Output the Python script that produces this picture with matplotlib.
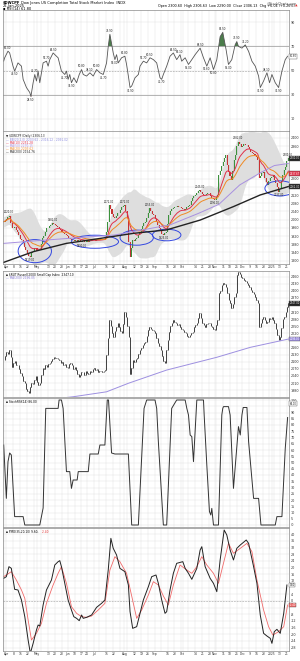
import numpy as np
import pandas as pd
import matplotlib
matplotlib.use("Agg")
import matplotlib.pyplot as plt
from matplotlib.patches import Ellipse

# trading days on the chart
holidays = ["2024-03-29", "2024-05-27", "2024-06-19", "2024-07-04", "2024-09-02",
            "2024-11-28", "2024-12-25", "2025-01-01", "2025-01-09", "2025-01-20"]
dates = pd.bdate_range("2024-03-27", "2025-01-22")
dates = dates[~dates.isin(pd.to_datetime(holidays))]

dw_close = [
    1990, 1995, 2005, 2012, 2020, 1985, 1960, 1957, 1965, 1950,
    1941, 1925, 1905, 1900, 1885, 1868, 1850, 1835, 1822, 1819,
    1835, 1843, 1860, 1859, 1845, 1851, 1851, 1880, 1908, 1920,
    1940, 1957, 1960, 1970, 1975, 1982, 1978, 1975, 1968, 1966,
    1955, 1948, 1941, 1935, 1930, 1925, 1918, 1912, 1905, 1900,
    1900, 1895, 1902, 1898, 1900, 1895, 1890, 1898, 1892, 1892,
    1896, 1890, 1898, 1900, 1900, 1905, 1898, 1902, 1900, 1900,
    1905, 1903, 1906, 1908, 1940, 1990, 2072, 2050, 2030, 2015,
    2006, 2020, 2035, 2031, 2045, 2060, 2068, 2072, 2040, 2006,
    1892, 1815, 1860, 1900, 1895, 1905, 1908, 1925, 1941, 1955,
    1970, 1982, 1990, 2010, 2035, 2055, 2040, 2030, 2023, 2005,
    1990, 1974, 1960, 1945, 1930, 1925, 1935, 1941, 1980, 2023,
    2040, 2050, 2058, 2064, 2060, 2066, 2060, 2064, 2055, 2050,
    2047, 2052, 2060, 2068, 2072, 2090, 2105, 2115, 2122, 2129,
    2138, 2145, 2135, 2128, 2121, 2121, 2125, 2130, 2129, 2115,
    2105, 2100, 2096, 2110, 2121, 2219, 2240, 2265, 2284, 2300,
    2317, 2270, 2235, 2215, 2194, 2240, 2290, 2317, 2360, 2382,
    2370, 2358, 2362, 2370, 2366, 2366, 2355, 2345, 2333, 2325,
    2320, 2315, 2309, 2290, 2202, 2215, 2228, 2235, 2205, 2185,
    2170, 2190, 2205, 2210, 2219, 2195, 2178, 2160, 2137, 2150,
    2190, 2219, 2245, 2260, 2285, 2300,
]

rut_close = [
    2108, 2125, 2140, 2135, 2150, 2120, 2080, 2095, 2105, 2085,
    2087, 2070, 2052, 2040, 2020, 2009, 1985, 1975, 1967, 1995,
    2010, 2005, 2023, 2040, 2015, 2000, 2009, 2045, 2072, 2070,
    2085, 2080, 2090, 2094, 2105, 2110, 2122, 2115, 2118, 2110,
    2108, 2095, 2100, 2085, 2090, 2080, 2075, 2090, 2094, 2085,
    2070, 2080, 2065, 2050, 2037, 2045, 2055, 2058, 2045, 2060,
    2052, 2048, 2062, 2055, 2068, 2072, 2065, 2070, 2058, 2062,
    2060, 2058, 2062, 2065, 2129, 2200, 2277, 2250, 2220, 2206,
    2230, 2245, 2263, 2245, 2230, 2221, 2260, 2312, 2290, 2250,
    2206, 2050, 2075, 2108, 2100, 2110, 2115, 2135, 2150, 2160,
    2170, 2180, 2185, 2210, 2235, 2249, 2240, 2235, 2230, 2221,
    2200, 2178, 2165, 2150, 2125, 2105, 2094, 2150, 2192, 2225,
    2250, 2265, 2277, 2270, 2262, 2255, 2258, 2249, 2240, 2235,
    2228, 2220, 2210, 2206, 2215, 2222, 2228, 2245, 2255, 2263,
    2285, 2305, 2285, 2265, 2255, 2249, 2258, 2262, 2263, 2250,
    2245, 2240, 2235, 2255, 2277, 2390, 2400, 2425, 2432, 2428,
    2418, 2390, 2360, 2347, 2326, 2345, 2375, 2390, 2465, 2481,
    2470, 2460, 2455, 2445, 2440, 2432, 2425, 2418, 2404, 2395,
    2385, 2375, 2362, 2350, 2249, 2265, 2280, 2291, 2275, 2263,
    2270, 2285, 2280, 2291, 2275, 2263, 2240, 2215, 2192, 2205,
    2242, 2280, 2291, 2310, 2330, 2347,
]

# slow averages as (day, value)
dw_ma50 = [(0, 1884), (30, 1900), (60, 1915), (80, 1925), (100, 1950), (120, 1975),
           (140, 2030), (155, 2075), (170, 2170), (185, 2230), (195, 2265), (205, 2275)]
dw_ma200 = [(0, 1791), (21.2, 1843), (45.2, 1884), (69.3, 1908), (93.4, 1933),
            (117.4, 1950), (141.5, 1998), (165.5, 2064), (184.8, 2121), (205, 2162)]
rut_ma200 = [(0, 1920), (50, 1952), (74.1, 1973), (89.8, 2009), (117.4, 2065),
             (153.5, 2119), (177.6, 2161), (205, 2196)]

# RSI(14)
rsi_pts = [
    (0, 57.8), (0.7, 60.5), (3.1, 66), (4.3, 64.5), (6.7, 53.6), (7.9, 49.5), (10.3, 56.3),
    (12.8, 53.6), (14, 42.7), (16.4, 35.9), (18.8, 31.8), (19.6, 28.5), (21.2, 39.9),
    (22.4, 46.7), (23.6, 41.3), (24.8, 49.5), (26, 39.9), (28.4, 56.3), (30.8, 57.7),
    (32, 53.6), (33.2, 59), (35.6, 64.5), (38, 61.8), (39.2, 60.5), (41.6, 49.5), (44, 46.7),
    (45.2, 49.5), (46.4, 42.7), (47.6, 46.7), (48.8, 39.9), (50.5, 44), (52.5, 39.9),
    (54.4, 46.7), (56.1, 50.8), (57.3, 46.7), (59.7, 45.4), (62.1, 48.1), (64.5, 45.4),
    (66.9, 50.8), (69.3, 48.1), (71.7, 46.7), (74.1, 56.3), (75.3, 69.9), (76.5, 79.9),
    (78.9, 64.5), (80.1, 59), (81.3, 63.1), (82.5, 56.3), (84.9, 60.5), (87.3, 61.8),
    (88.5, 55), (89.8, 45.4), (91, 35.9), (92.2, 37.2), (94.6, 44), (97, 46.7), (98.2, 53.6),
    (100.6, 57.7), (103, 56.3), (105.4, 60.5), (107.8, 59), (110.2, 56.3), (112.6, 44),
    (113.8, 42.7), (115, 46.7), (117.4, 53.6), (119.8, 61.8), (122.2, 64.5), (124.6, 59),
    (127, 63.1), (128.2, 57.7), (130.7, 60.5), (133.1, 55), (135.5, 59), (137.9, 63.1),
    (141.5, 68.5), (143.9, 60.5), (146.3, 53.6), (148.7, 60.5), (151.1, 50.8), (153.5, 59),
    (155.9, 78), (157.8, 81.5), (160.2, 67.1), (161.9, 55), (164.3, 59), (166.7, 71.2),
    (167.9, 73.9), (169.1, 69.9), (171.6, 68.5), (174, 71.2), (176.4, 65.8), (178.8, 57.7),
    (181.2, 53.6), (183.6, 45.4), (184.8, 35.9), (187.2, 41.3), (189.6, 48.1), (191.5, 39.9),
    (193.2, 46.7), (195.6, 39.9), (198, 35.9), (200.4, 49.5), (202.8, 59), (204.5, 61.8),
]

# stochastic panel
sto_pts = [
    (0, 64), (1.9, 21.3), (3.1, 50.7), (4.3, 57.6), (5.5, 56), (7.9, 6.7), (14, 6.7),
    (15.2, 0), (26, 0), (28.4, 13.6), (30.3, 93.3), (39.2, 93.3), (39.9, 100), (41.6, 100),
    (42.8, 93.3), (45.2, 42.7), (47.6, 42.7), (48.8, 29.3), (50, 36), (52.9, 36),
    (53.7, 42.7), (60.9, 42.7), (62.1, 56.8), (68.1, 56.8), (69.3, 64), (72.9, 64),
    (74.6, 100), (75.5, 100), (77.7, 57.6), (80.1, 56.8), (89.8, 56.8), (92.2, 0), (97, 0),
    (101.1, 93.3), (103, 100), (109, 100), (110.2, 93.3), (111.4, 66.7), (115, 0),
    (117.4, 0), (121, 93.3), (124.6, 100), (130.7, 100), (131.9, 93.3), (133.1, 88),
    (134.3, 72), (135.5, 70.7), (136.7, 50.7), (139.1, 100), (143.9, 100), (144.4, 88),
    (146.3, 48), (148.2, 10.7), (149.2, 8), (149.9, 13.3), (151.1, 0), (154.7, 0),
    (157.1, 88), (157.8, 93.3), (158.3, 94.7), (161.9, 94.7), (163.1, 88), (165.5, 29.3),
    (169.1, 78.7), (170.4, 72), (171.6, 88), (172.5, 94), (175.2, 94), (176.4, 66.7),
    (180, 21.3), (183.6, 21.3), (185.3, 0), (195.6, 0), (196.8, 6.7), (200.4, 6.7),
    (202.8, 61.3), (204.5, 86),
]

# PMO line and signal
pmo_pts = [
    (0, 13.6), (1.9, 14.6), (3.8, 20.6), (5.5, 19.6), (7.9, 7), (10.3, 6.6), (12.8, 0.6),
    (15.2, -9.4), (17.6, -23.4), (19.2, -31.4), (21.2, -25.4), (23.6, -17.4), (24.8, -14.4),
    (26, -15), (28.4, -2.4), (30.8, 6.6), (34.4, 12.6), (36.8, 21.6), (39.2, 23.6),
    (40.4, 24.2), (41.6, 20.6), (44, 10.6), (46.4, 0.6), (48.8, -5.4), (50.5, -9.4),
    (52.5, -10.4), (54.4, -11.8), (56.1, -8.4), (57.3, -10.4), (59.7, -9.8), (63.3, -8.4),
    (66.9, -3.8), (70.5, -1.4), (72.9, 0.6), (75.3, 18.6), (77.2, 37.6), (78.9, 31.6),
    (81.3, 27.6), (83.7, 19.6), (87.3, 17.6), (89.8, 9.6), (91, -6.4), (92.9, -16.4),
    (95.8, -15.4), (98.2, -7.4), (100.6, 0.6), (104.2, 8.6), (106.6, 14.6), (109.7, 15.6),
    (111.4, 10.6), (113.8, 0.6), (116.2, -7.4), (117.4, -6.4), (119.8, 6.6), (122.2, 16.6),
    (124.6, 22.6), (129, 23.6), (130.7, 19.6), (133.1, 16.6), (135.5, 13), (139.1, 19.6),
    (141.5, 30.6), (142.7, 32.6), (145.1, 20.6), (148.7, 13.6), (151.1, 10.6), (153.5, 5.6),
    (155.9, 24.6), (158.8, 42.6), (160.7, 39.6), (163.1, 30.6), (165.5, 24.6), (167.9, 31.6),
    (170.4, 33.6), (174.7, 36.6), (176.4, 34.6), (180, 20.6), (182.4, 10.6), (184.8, -8.4),
    (187.2, -19.4), (189.6, -21), (192, -22.4), (193.2, -25.4), (194.9, -18.4), (196.8, -17),
    (199.2, -19.4), (201.7, -7.4), (204, 9.6),
]
signal_pts = [
    (0, 14.6), (5.5, 17.6), (9.1, 12.6), (12.8, 6.6), (15.2, 1.6), (17.6, -11.4), (20, -23.4),
    (23.6, -19.4), (27.2, -13.4), (30.8, -1.4), (35.6, 9.6), (39.2, 16.6), (41.6, 20.6),
    (45.2, 10.6), (48.8, -3.4), (52.5, -7.4), (56.1, -9.4), (59.7, -9.8), (63.3, -9),
    (68.1, -5.4), (72.9, -1.4), (76.5, 18.6), (80.1, 26.6), (83.7, 23.6), (88.5, 16.6),
    (92.2, 3), (95.8, -10.4), (99.4, -5.4), (104.2, 3.6), (107.8, 11.6), (111.4, 9.6),
    (115, 3), (118.6, -2.4), (122.2, 9.6), (127, 21.6), (131.9, 18.6), (135.5, 16.6),
    (139.1, 20.6), (142.7, 26.6), (146.3, 21.6), (151.1, 16.6), (154.7, 10.6), (158.3, 22.6),
    (161.9, 34.6), (165.5, 28.6), (170.4, 31.6), (175.2, 34.6), (178.8, 29.6), (182.4, 12.6),
    (187.2, -5.4), (190.8, -15.4), (193.9, -20.4), (198, -18.4), (201.7, -15.4), (204.5, -2.4),
]

# hand-drawn blue circles on the price panel: (day, value, width in days, height)
circles = [(22.4, 1846, 24, 113), (65.7, 1892, 34, 64), (95.8, 1912, 24, 74),
           (117.4, 1925, 20.5, 57), (199, 2153, 21.7, 74)]

n = len(dw_close)
x = np.arange(n)
dates = dates[:n]

# x ticks: month starts and week starts (week labels next to a month label are dropped)
month_idx = [i for i in range(1, n) if dates[i].month != dates[i - 1].month]
tick_pos, tick_lab = [], []
for i, d in enumerate(dates):
    if i in month_idx:
        tick_pos.append(i)
        tick_lab.append("2025" if d.month == 1 else d.strftime("%b"))
    elif i == 0 or d.weekday() < dates[i - 1].weekday():
        tick_pos.append(i)
        near = any(-3 <= i - m <= 4 for m in month_idx)
        tick_lab.append("" if near else str(d.day))

W, H = 300, 661
fig = plt.figure(figsize=(W / 100, H / 100), dpi=100)
fig.patch.set_facecolor("white")
FS = 2.4


def panel(top, bottom):
    return fig.add_axes([3 / W, 1 - bottom / H, 286 / W, (bottom - top) / H])


def style(ax, ylim, step=None, labels=False, avoid=()):
    ax.set_xlim(-0.5, n - 0.5)
    ax.set_ylim(*ylim)
    ax.yaxis.tick_right()
    if step:
        start = np.ceil(ylim[0] / step) * step
        ticks = np.arange(start, ylim[1], step)
        ax.set_yticks(ticks)
        ax.set_yticklabels(["%g" % t if all(abs(t - a) > 0.55 * step for a in avoid) else ""
                            for t in ticks])
    ax.tick_params(axis="both", length=0, labelsize=FS, pad=1, colors="#333333")
    ax.tick_params(axis="x", labelsize=2.2, pad=0.8)
    ax.set_xticks(tick_pos)
    ax.set_xticklabels(tick_lab if labels else [])
    ax.grid(True, color="#e3e3e3", lw=0.35)
    ax.set_axisbelow(True)
    for s in ax.spines.values():
        s.set_color("#8a8a8a")
        s.set_linewidth(0.5)


def last_box(ax, val, text, fc, tc="white"):
    ax.annotate(text, xy=(1.0, val), xycoords=("axes fraction", "data"),
                xytext=(0.3, 0), textcoords="offset points", fontsize=1.8, color=tc,
                va="center", ha="left",
                bbox=dict(boxstyle="square,pad=0.12", fc=fc, ec="#555555", lw=0.3))


def pts(p):
    a = np.array(p, dtype=float)
    return a[:, 0], a[:, 1]


def swing_labels(ax, xs, ys, fmt, off, fs=1.9, gap=3.5):
    last = {"hi": -99, "lo": -99}
    prev = (-99, 0)
    for i in range(1, len(ys) - 1):
        if xs[i] - prev[0] < 4 and abs(ys[i] - prev[1]) < 16:
            continue
        if ys[i] > ys[i - 1] and ys[i] >= ys[i + 1] and xs[i] - last["hi"] > gap:
            ax.annotate(fmt % ys[i], (xs[i], ys[i]), xytext=(0, off), textcoords="offset points",
                        ha="center", va="bottom", fontsize=fs, color="#222222")
            last["hi"] = xs[i]
            prev = (xs[i], ys[i])
        elif ys[i] < ys[i - 1] and ys[i] <= ys[i + 1] and xs[i] - last["lo"] > gap:
            ax.annotate(fmt % ys[i], (xs[i], ys[i]), xytext=(0, -off), textcoords="offset points",
                        ha="center", va="top", fontsize=fs, color="#222222")
            last["lo"] = xs[i]
            prev = (xs[i], ys[i])


c = pd.Series(dw_close, dtype=float)
o = c.shift(1).fillna(c.iloc[0])
ma10 = c.ewm(span=10).mean()
ma20 = c.ewm(span=20).mean()
r = pd.Series(rut_close, dtype=float)
ro = r.shift(1).fillna(r.iloc[0])
rd, rv = pts(rsi_pts)
sd_, sv = pts(sto_pts)
pd_, pv = pts(pmo_pts)
gd, gv = pts(signal_pts)
dw200_last = pts(dw_ma200)[1][-1]
rut200_last = pts(rut_ma200)[1][-1]

# ---- header
fig.text(3 / W, 1 - 1 / H, "$DWCPF", fontsize=2.6, fontweight="bold", va="top")
fig.text(21 / W, 1 - 1 / H, "Dow Jones US Completion Total Stock Market Index  INDX",
         fontsize=2.6, va="top")
fig.text(3 / W, 1 - 4 / H, "22-Jan-2025", fontsize=2.6, va="top")
fig.text(3 / W, 1 - 7 / H, "\u25aa RSI(14) 61.80", fontsize=2.6, va="top")
fig.text(297 / W, 1 - 1 / H, "@StockCharts.com", fontsize=2.3, va="top", ha="right", color="#555555")
fig.text(295 / W, 1 - 4 / H,
         "Open 2300.60  High 2306.63  Low 2290.00  Close 2306.13  Chg +6.04 (+0.26%)",
         fontsize=2.4, va="top", ha="right")
fig.text(297.5 / W, 1 - 4 / H, "\u25b2", fontsize=2.4, va="top", ha="right", color="#e03030")

# ---- panel 1: RSI
ax1 = panel(10, 131)
style(ax1, (0, 100))
ax1.set_yticks([10, 30, 50, 70, 90])
ax1.axhline(70, color="#9a9a9a", lw=0.5)
ax1.axhline(30, color="#9a9a9a", lw=0.5)
ax1.axhline(50, color="#9a9a9a", lw=0.4, ls=(0, (3, 2)))
ax1.fill_between(rd, rv, 70, where=rv > 70, interpolate=True, color="#4b7d4b", lw=0)
ax1.fill_between(rd, rv, 30, where=rv < 30, interpolate=True, color="#c04040", lw=0)
ax1.plot(rd, rv, color="#555555", lw=0.6)
swing_labels(ax1, rd, rv, "%.2f", 0.8)
last_box(ax1, rv[-1], "%.2f" % rv[-1], "white", "#222222")

# ---- panel 2: DWCPF with averages and bands
ax2 = panel(131, 264)
style(ax2, (1783, 2434), 40, labels=True,
      avoid=(c.iloc[-1], ma10.iloc[-1] - 12, dw200_last))
mid = c.rolling(20, min_periods=1).mean()
sd = c.rolling(20, min_periods=5).std().bfill().rolling(5, min_periods=1, center=True).mean()
ax2.fill_between(x, mid - 2 * sd, mid + 2 * sd, color="#dedede", lw=0)
up = (c >= o).values
ax2.bar(x[up], (c - o)[up], bottom=o[up], width=0.75, color="#3a9a3a", lw=0)
ax2.bar(x[~up], (c - o)[~up], bottom=o[~up], width=0.75, color="#d63030", lw=0)
ax2.vlines(x, np.minimum(o, c), np.maximum(o, c), color="#555555", lw=0.15)
ax2.plot(x, ma10, color="#e0304a", lw=0.7)
ax2.plot(x, ma20, color="#f08a24", lw=0.7)
ax2.plot(*pts(dw_ma50), color="#a890e0", lw=0.7)
ax2.plot(*pts(dw_ma200), color="#222222", lw=1.0)
for cx, cy, w, h in circles:
    ax2.add_patch(Ellipse((cx, cy), w, h, fill=False, ec="#3347e0", lw=0.7))
cv = c.values
last_lab = -10
for i in range(n):
    win = cv[max(0, i - 10):i + 11]
    if i - last_lab < 6:
        continue
    if cv[i] == win.max():
        ax2.annotate("%.2f" % cv[i], (i, cv[i]), xytext=(0, 1), textcoords="offset points",
                     ha="center", va="bottom", fontsize=1.8, color="#222222")
        last_lab = i
    elif cv[i] == win.min():
        ax2.annotate("%.2f" % cv[i], (i, cv[i]), xytext=(0, -1), textcoords="offset points",
                     ha="center", va="top", fontsize=1.8, color="#222222")
        last_lab = i
leg = [("\u25bc $DWCPF (Daily) 2306.13", "#222222"),
       ("\u2014 BB(20,2.0) 2203.62 - 2316.12 - 2091.02", "#8c8ce0"),
       ("\u2014 MA(10) 2252.28", "#e0304a"),
       ("\u2014 MA(50) 2270.15", "#a890e0"),
       ("\u2014 MA(20) 2203.62", "#f08a24"),
       ("\u2014 MA(200) 2154.76", "#222222")]
for k, (t, col) in enumerate(leg):
    ax2.text(0.012, 0.975 - k * 0.024, t, transform=ax2.transAxes, fontsize=2.1,
             color=col, va="top")
last_box(ax2, cv[-1], "%.2f" % cv[-1], "#222222")
last_box(ax2, ma10.iloc[-1] - 12, "%.2f" % ma10.iloc[-1], "#e0304a")
last_box(ax2, dw200_last, "%.2f" % dw200_last, "#222222")

# ---- panel 3: RUT bars with 200-day average
ax3 = panel(271, 397)
style(ax3, (1951, 2484), 30, avoid=(r.iloc[-1], rut200_last))
ax3.vlines(x, np.minimum(ro, r), np.maximum(ro, r), color="#222222", lw=0.6)
ax3.hlines(r, x, x + 0.45, color="#222222", lw=0.4)
ax3.plot(*pts(rut_ma200), color="#9d8fe0", lw=0.7)
ax3.text(0.012, 0.985, "\u25aa $RUT Russell 2000 Small Cap Index  2347.10",
         transform=ax3.transAxes, fontsize=2.1, va="top")
ax3.text(0.012, 0.96, "\u2014 MA(200) 2196.05", transform=ax3.transAxes, fontsize=2.1,
         va="top", color="#8c7fd8")
last_box(ax3, r.iloc[-1], "%.2f" % r.iloc[-1], "#222222")
last_box(ax3, rut200_last, "%.2f" % rut200_last, "#9d8fe0")

# ---- panel 4: stochastic
ax4 = panel(398, 527)
style(ax4, (-1.6, 101.6), 5, avoid=(97,))
ax4.plot(sd_, sv, color="#333333", lw=0.7)
ax4.text(0.012, 0.985, "\u25aa StochRSI(14) 86.00", transform=ax4.transAxes, fontsize=2.1,
         va="top")
last_box(ax4, 97, "%.2f" % sv[-1], "white", "#222222")

# ---- panel 5: PMO
ax5 = panel(528, 651)
style(ax5, (-30, 43.8), 4, labels=True, avoid=(pv[-1], gv[-1]))
ax5.axhline(0, color="#a0a0a0", lw=0.4, ls=(0, (3, 2)))
ax5.plot(gd, gv, color="#f06a6a", lw=0.6)
ax5.plot(pd_, pv, color="#222222", lw=0.7)
ax5.text(0.012, 0.985, "\u25aa PMO(35,20,10) 9.60,", transform=ax5.transAxes, fontsize=2.1,
         va="top")
ax5.text(0.135, 0.985, "-2.40", transform=ax5.transAxes, fontsize=2.1, va="top",
         color="#e03030")
last_box(ax5, pv[-1], "%.2f" % pv[-1], "white", "#222222")
last_box(ax5, gv[-1], "%.2f" % gv[-1], "#f06a6a")

fig.savefig("out.png", dpi=100, facecolor="white")
